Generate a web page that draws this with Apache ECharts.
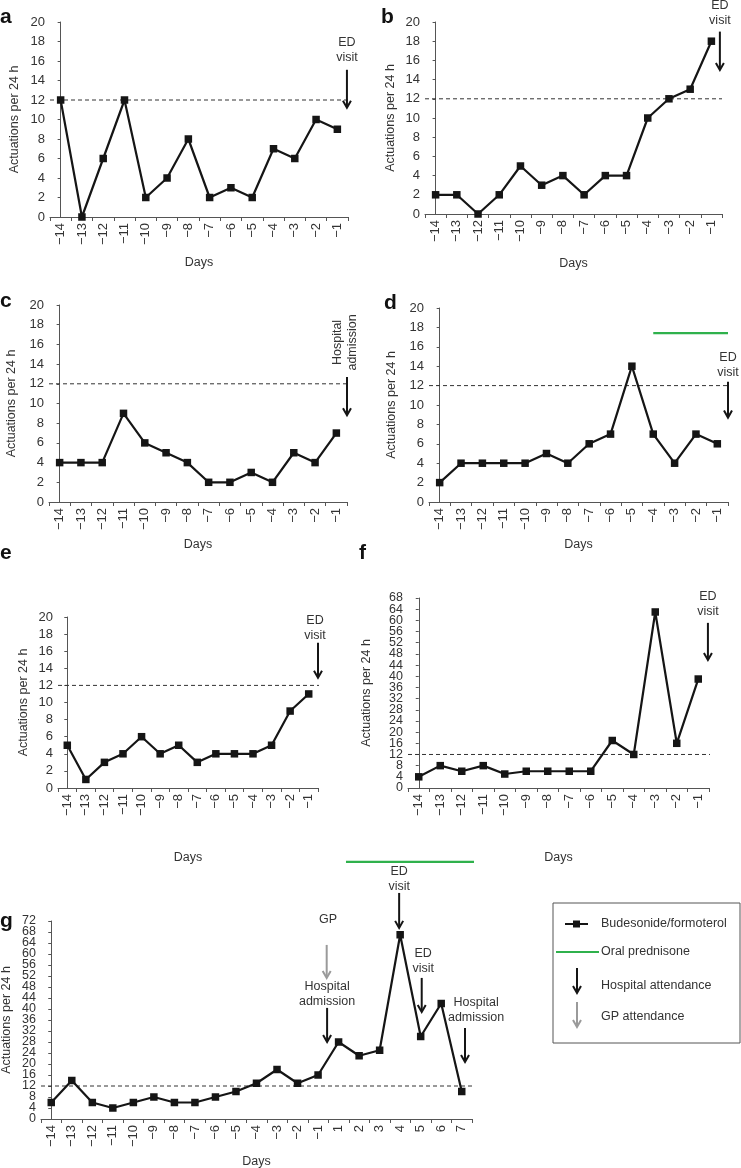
<!DOCTYPE html>
<html><head><meta charset="utf-8">
<script src="https://cdn.jsdelivr.net/npm/echarts@6/dist/echarts.min.js"></script>
<style>html,body{margin:0;padding:0;background:#fff}#c{width:741px;height:1168px}</style>
</head><body><div id="c"></div>
<script>
// ---------------- DATA ----------------
const DAYS_PRE = ['−14','−13','−12','−11','−10','−9','−8','−7','−6','−5','−4','−3','−2','−1'];
const DAYS_G = DAYS_PRE.concat(['1','2','3','4','5','6','7']);

const VALUES_A = [12,0,6,12,2,4,8,2,3,2,7,6,10,9];
const VALUES_B = [2,2,0,2,5,3,4,2,4,4,10,12,13,18];
const VALUES_C = [4,4,4,9,6,5,4,2,2,3,2,5,4,7];
const VALUES_D = [2,4,4,4,4,5,4,6,7,14,7,4,7,6];
const VALUES_E = [5,1,3,4,6,4,5,3,4,4,4,5,9,11];
const VALUES_F = [4,8,6,8,5,6,6,6,6,17,12,63,16,39];
const VALUES_G = [6,14,6,4,6,8,6,6,8,10,13,18,13,16,28,23,25,67,30,42,10];

const THRESHOLD = 12;
const Y_MAX_SMALL = 20, Y_STEP_SMALL = 2;
const Y_MAX_F = 68, Y_MAX_G = 72, Y_STEP_LARGE = 4;
// tick labels of the dense axes (f, g)
const Y_TICKS_F = [0,4,8,12,16,20,24,28,32,36,40,44,48,52,56,60,64,68];
const Y_TICKS_G = [0,4,8,12,16,20,24,28,32,36,40,44,48,52,56,60,64,68,72];

const SERIES_NAME = 'Budesonide/formoterol';
const Y_TITLE = 'Actuations per 24 h';
const X_TITLE = 'Days';

// annotations in data coordinates (x = category index, y = actuations)
const ARROWS_A = [{x:13.45, from:15.1, to:11.2, kind:'hosp'}];
const TEXTS_A  = [{x:13.45, y:17.1, text:'ED\nvisit'}];
const ARROWS_B = [{x:13.4, from:19.0, to:15.0, kind:'hosp'}];
const TEXTS_B  = [{x:13.4, y:20.9, text:'ED\nvisit'}];
const ARROWS_C = [{x:13.5, from:12.7, to:8.8, kind:'hosp'}];
const TEXTS_C  = [{x:13.4, y:16.2, text:'Hospital\nadmission', rotate:true}];
const ARROWS_D = [{x:13.5, from:12.4, to:8.7, kind:'hosp'}];
const TEXTS_D  = [{x:13.5, y:14.1, text:'ED\nvisit'}];
const PRED_D   = [[10, 17.4],[13.5, 17.4]];
const ARROWS_E = [{x:13.5, from:17.0, to:12.9, kind:'hosp'}];
const TEXTS_E  = [{x:13.34, y:18.7, text:'ED\nvisit'}];
const ARROWS_F = [{x:13.45, from:59.1, to:45.8, kind:'hosp'}];
const TEXTS_F  = [{x:13.45, y:65.7, text:'ED\nvisit'}];
const ARROWS_G = [
  {x:13.42, from:63.3, to:51.3, kind:'gp'},
  {x:13.44, from:40.4, to:28.0, kind:'hosp'},
  {x:16.95, from:82.2, to:69.5, kind:'hosp'},
  {x:18.05, from:51.3, to:38.9, kind:'hosp'},
  {x:20.16, from:33.1, to:20.7, kind:'hosp'}
];
const TEXTS_G = [
  {x:13.49, y:72.4, text:'GP'},
  {x:13.44, y:45.3, text:'Hospital\nadmission'},
  {x:16.95, y:87.1, text:'ED\nvisit'},
  {x:18.12, y:57.3, text:'ED\nvisit'},
  {x:20.7,  y:39.5, text:'Hospital\nadmission'}
];
const PRED_G = [[14.36, 93.5],[21.48, 93.5]];

const LEGEND_LABELS = ['Budesonide/formoterol','Oral prednisone','Hospital attendance','GP attendance'];

// ---------------- LAYOUT / STYLE ----------------
const FONT = '"Liberation Sans", Arial, Helvetica, sans-serif';
const TXT = '#333';
const AXIS = '#555';
const GREEN = '#2fb14c';
const GP_GREY = '#9a9a9a';

const PANELS = [
  {letter:'a', cats:DAYS_PRE, vals:VALUES_A, ymax:Y_MAX_SMALL, step:Y_STEP_SMALL, grid:{left:50,top:22,width:298,height:195}, lt:{left:0,top:7},  yGap:29, xGap:39, threshEnd:13.5, arrows:ARROWS_A, texts:TEXTS_A},
  {letter:'b', cats:DAYS_PRE, vals:VALUES_B, ymax:Y_MAX_SMALL, step:Y_STEP_SMALL, grid:{left:425,top:22,width:297,height:192}, lt:{left:381,top:7}, yGap:28, xGap:43, threshEnd:13.5, arrows:ARROWS_B, texts:TEXTS_B},
  {letter:'c', cats:DAYS_PRE, vals:VALUES_C, ymax:Y_MAX_SMALL, step:Y_STEP_SMALL, grid:{left:49,top:305,width:298,height:197}, lt:{left:0,top:291}, yGap:31, xGap:36, threshEnd:13.5, arrows:ARROWS_C, texts:TEXTS_C},
  {letter:'d', cats:DAYS_PRE, vals:VALUES_D, ymax:Y_MAX_SMALL, step:Y_STEP_SMALL, grid:{left:429,top:308,width:299,height:194}, lt:{left:384,top:293}, yGap:31, xGap:36, threshEnd:13.6, arrows:ARROWS_D, texts:TEXTS_D, pred:PRED_D},
  {letter:'e', cats:DAYS_PRE, vals:VALUES_E, ymax:Y_MAX_SMALL, step:Y_STEP_SMALL, grid:{left:58,top:617,width:260,height:171}, lt:{left:0,top:543}, yGap:28, xGap:63, threshEnd:14.04, arrows:ARROWS_E, texts:TEXTS_E},
  {letter:'f', cats:DAYS_PRE, vals:VALUES_F, ymax:Y_MAX_F, step:Y_STEP_LARGE, yTicks:Y_TICKS_F, grid:{left:408,top:598,width:301,height:190}, lt:{left:359,top:543}, yGap:35, xGap:63, threshEnd:13.96, arrows:ARROWS_F, texts:TEXTS_F},
  {letter:'g', cats:DAYS_G, vals:VALUES_G, ymax:Y_MAX_G, step:Y_STEP_LARGE, yTicks:Y_TICKS_G, grid:{left:41,top:921,width:431,height:198}, lt:{left:0,top:911}, yGap:28, xGap:36, threshEnd:20.55, arrows:ARROWS_G, texts:TEXTS_G, pred:PRED_G}
];

const option = {
  animation:false,
  backgroundColor:'#fff',
  textStyle:{fontFamily:FONT},
  title:[], grid:[], xAxis:[], yAxis:[], series:[], graphic:[]
};

function arrowShape(x, y1, y2, color){
  return {type:'group', children:[
    {type:'line', shape:{x1:x, y1:y1, x2:x, y2:y2-1}, style:{stroke:color, lineWidth:2}},
    {type:'polyline', shape:{points:[[x-4,y2-7],[x,y2],[x+4,y2-7]]}, style:{stroke:color, lineWidth:2, fill:null, lineJoin:'miter'}}
  ]};
}

PANELS.forEach((p, k) => {
  const n = p.cats.length;
  option.title.push({text:p.letter, left:p.lt.left, top:p.lt.top, padding:0,
    textStyle:{fontSize:21, fontWeight:'bold', color:'#111', fontFamily:FONT}});
  option.grid.push(Object.assign({containLabel:false, outerBoundsMode:'none'}, p.grid));
  option.xAxis.push({
    type:'category', gridIndex:k, data:p.cats, boundaryGap:true,
    name:X_TITLE, nameLocation:'middle', nameGap:p.xGap,
    nameTextStyle:{fontSize:12.5, color:TXT, fontFamily:FONT},
    axisLine:{show:true, lineStyle:{color:AXIS, width:1}},
    axisTick:{show:true, interval:0, length:4, lineStyle:{color:AXIS}},
    axisLabel:{interval:0, rotate:90, margin:6, fontSize:13, color:TXT, fontFamily:FONT, hideOverlap:false},
    splitLine:{show:false}
  });
  option.xAxis.push({
    type:'value', gridIndex:k, min:-0.5, max:n-0.5, show:false,
    splitLine:{show:false}
  });
  option.yAxis.push({
    type:'value', gridIndex:k, min:0, max:p.ymax, interval:p.step,
    name:Y_TITLE, nameLocation:'middle', nameRotate:90, nameGap:p.yGap,
    nameTextStyle:{fontSize:12.5, color:TXT, fontFamily:FONT},
    axisLine:{show:true, lineStyle:{color:AXIS, width:1}},
    axisTick:{show:true, length:3, lineStyle:{color:AXIS}},
    axisLabel:{show:!p.yTicks, margin:5, fontSize:13, color:TXT, fontFamily:FONT,
      showMinLabel:true, showMaxLabel:true, hideOverlap:false},
    splitLine:{show:false}
  });
  // dense y tick labels, placed through the y scale
  if (p.yTicks) {
    const ticks = p.yTicks;
    option.series.push({
      type:'custom', xAxisIndex:2*k+1, yAxisIndex:k, clip:false, silent:true,
      data:ticks.map(v => [-0.5, v]),
      renderItem:(params, api) => {
        const c = api.coord([api.value(0), api.value(1)]);
        return {type:'text', x:c[0]-5, y:c[1],
          style:{x:0, y:0, text:String(ticks[params.dataIndex]), align:'right', verticalAlign:'middle',
            fontSize:12.5, fontFamily:FONT, fill:TXT}};
      }, z:6
    });
  }
  // threshold (dashed)
  option.series.push({
    type:'line', xAxisIndex:2*k+1, yAxisIndex:k, clip:false, silent:true,
    data:[[-0.5, THRESHOLD],[p.threshEnd, THRESHOLD]], symbol:'none',
    lineStyle:{color:'#333', width:1, type:[4,3]}, z:2
  });
  // prednisone
  if (p.pred) {
    option.series.push({
      type:'line', xAxisIndex:2*k+1, yAxisIndex:k, clip:false, silent:true,
      data:p.pred, symbol:'none', lineStyle:{color:GREEN, width:2.2}, z:2
    });
  }
  // main series
  option.series.push({
    name:SERIES_NAME, type:'line', xAxisIndex:2*k, yAxisIndex:k,
    data:p.vals, symbol:'rect', symbolSize:7.5, clip:false,
    lineStyle:{color:'#151515', width:2.2}, itemStyle:{color:'#151515'}, z:5
  });
  // arrows
  const arrows = p.arrows;
  option.series.push({
    type:'custom', xAxisIndex:2*k+1, yAxisIndex:k, clip:false, silent:true,
    data:arrows.map(a => [a.x, a.from, a.to]),
    renderItem:(params, api) => {
      const a = arrows[params.dataIndex];
      const p1 = api.coord([api.value(0), api.value(1)]);
      const p2 = api.coord([api.value(0), api.value(2)]);
      return arrowShape(p1[0], p1[1], p2[1], a.kind === 'gp' ? GP_GREY : '#151515');
    }, z:6
  });
  // annotation texts
  const texts = p.texts;
  option.series.push({
    type:'custom', xAxisIndex:2*k+1, yAxisIndex:k, clip:false, silent:true,
    data:texts.map(t => [t.x, t.y]),
    renderItem:(params, api) => {
      const t = texts[params.dataIndex];
      const c = api.coord([api.value(0), api.value(1)]);
      return {type:'text', x:c[0], y:c[1], rotation:t.rotate ? Math.PI/2 : 0,
        style:{x:0, y:0, text:t.text, align:'center', verticalAlign:'middle',
          fontSize:12.5, lineHeight:15, fontFamily:FONT, fill:TXT}};
    }, z:6
  });
});

// legend box (panel g)
const LG = {x:553, y:903, w:187, h:140};
option.graphic = [
  {type:'rect', shape:{x:LG.x, y:LG.y, width:LG.w, height:LG.h}, style:{fill:'#fff', stroke:'#555', lineWidth:1}},
  {type:'line', shape:{x1:565, y1:924, x2:588, y2:924}, style:{stroke:'#151515', lineWidth:2}},
  {type:'rect', shape:{x:573, y:920.5, width:7, height:7}, style:{fill:'#151515'}},
  {type:'text', x:601, y:924, style:{text:LEGEND_LABELS[0], fontSize:12.5, fontFamily:FONT, fill:TXT, verticalAlign:'middle'}},
  {type:'line', shape:{x1:556, y1:952, x2:599, y2:952}, style:{stroke:GREEN, lineWidth:2}},
  {type:'text', x:601, y:952, style:{text:LEGEND_LABELS[1], fontSize:12.5, fontFamily:FONT, fill:TXT, verticalAlign:'middle'}},
  arrowShape(577, 968, 993, '#151515'),
  {type:'text', x:601, y:986, style:{text:LEGEND_LABELS[2], fontSize:12.5, fontFamily:FONT, fill:TXT, verticalAlign:'middle'}},
  arrowShape(577, 1002, 1027, GP_GREY),
  {type:'text', x:601, y:1017, style:{text:LEGEND_LABELS[3], fontSize:12.5, fontFamily:FONT, fill:TXT, verticalAlign:'middle'}}
];

const chart = echarts.init(document.getElementById('c'), null, {renderer:'canvas'});
chart.setOption(option);
</script>
</body></html>
